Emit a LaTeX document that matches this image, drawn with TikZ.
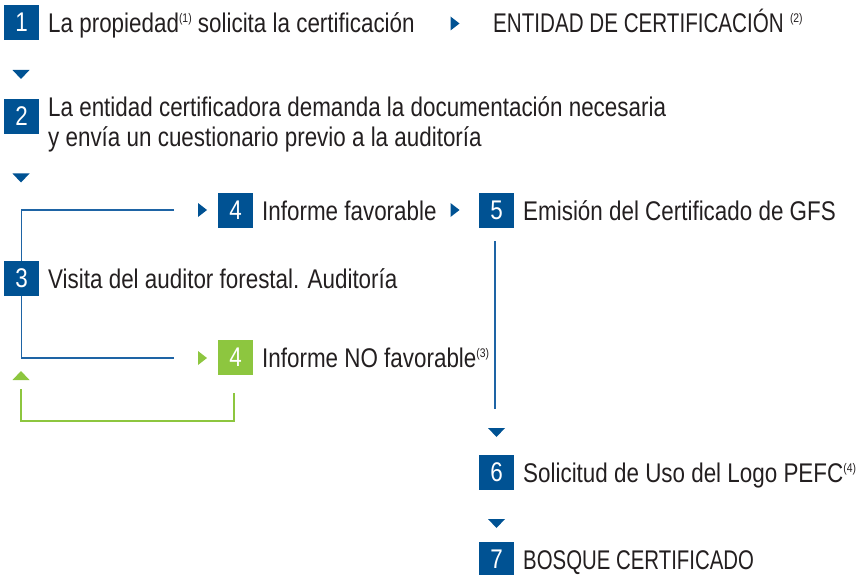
\documentclass[tikz,border=0pt]{standalone}
\usepackage{fontspec}
\setmainfont{Liberation Sans}[FakeStretch=0.83]
\definecolor{pblue}{RGB}{0,82,147}
\definecolor{lblue}{RGB}{30,100,165}
\definecolor{pgreen}{RGB}{141,198,63}
\definecolor{tcol}{RGB}{35,31,32}
\newcommand\fnsup[1]{\raisebox{10pt}{\fontsize{12.5}{12.5}\selectfont #1}}
\tikzset{
  numbox/.style={fill=pblue, minimum size=35pt, inner sep=0pt, text=white, font=\fontsize{27}{27}\selectfont},
  greenbox/.style={numbox, fill=pgreen},
  lbl/.style={anchor=base west, inner sep=0pt, text=tcol, font=\fontsize{27}{27}\selectfont},
  bline/.style={draw=lblue, line width=1.3pt},
  gline/.style={draw=pgreen, line width=1.3pt},
  tridown/.pic={\fill (-8.5,-4.5) -- (8.5,-4.5) -- (0,4.5) -- cycle;},
  triup/.pic={\fill (-8.5,4.5) -- (8.5,4.5) -- (0,-4.5) -- cycle;},
  triright/.pic={\fill (-4.5,-7) -- (-4.5,7) -- (4.5,0) -- cycle;}
}
\begin{document}
\begin{tikzpicture}[x=1pt,y=-1pt]
\useasboundingbox (0,0) rectangle (865,575);
% step 1
\node[numbox] (n1) at (21.5,22.5) {1};
\node[lbl] (t1) at (48,32.5) {La propiedad\fnsup{(1)} solicita la certificación};
\pic[pblue] at (455,23.5) {triright};
\node[lbl] (t1b) at (493,32.5) {\scalebox{0.92}[1]{ENTIDAD DE CERTIFICACIÓN} \fnsup{(2)}};
\pic[pblue] at (21,74.5) {tridown};
% step 2
\node[numbox] (n2) at (21.5,116.5) {2};
\node[lbl] (t2a) at (48,117) {La entidad certificadora demanda la documentación necesaria};
\node[lbl] (t2b) at (48,146.5) {y envía un cuestionario previo a la auditoría};
\pic[pblue] at (21,178) {tridown};
% step 3
\node[numbox] (n3) at (21.5,278.5) {3};
\node[lbl] (t3) at (48,288.5) {Visita del auditor forestal. Auditoría};
\coordinate (a1) at (174,210);
\coordinate (a2) at (174,358);
\draw[bline] (a1) -| (n3.north);
\draw[bline] (n3.south) |- (a2);
% step 4 favorable
\pic[pblue] at (202.5,210) {triright};
\node[numbox] (n4) at (235.5,210.5) {4};
\node[lbl] (t4) at (262,220.5) {Informe favorable};
\pic[pblue] at (455,210) {triright};
% step 4 no favorable
\pic[pgreen] at (202.5,358) {triright};
\node[greenbox] (n4b) at (235.5,357.5) {4};
\node[lbl] (t4b) at (262,367.5) {Informe NO favorable\fnsup{(3)}};
\pic[pgreen] at (21,375.5) {triup};
\coordinate (g1) at (21,389);
\coordinate (g2) at (234,393);
\draw[gline] (g1) -- ++(0,32) -| (g2);
% step 5
\node[numbox] (n5) at (496.5,210.5) {5};
\node[lbl] (t5) at (523,220.5) {Emisión del Certificado de GFS};
\coordinate (v1) at (495,241);
\coordinate (v2) at (495,409);
\draw[bline] (v1) -- (v2);
\pic[pblue] at (496.5,432.5) {tridown};
% step 6
\node[numbox] (n6) at (496.5,472.5) {6};
\node[lbl] (t6) at (523,482.5) {Solicitud de Uso del Logo PEFC\fnsup{(4)}};
\pic[pblue] at (496.5,523.5) {tridown};
% step 7
\node[numbox] (n7) at (496.5,559.5) {7};
\node[lbl] (t7) at (523,569) {\scalebox{0.91}[1]{BOSQUE CERTIFICADO}};
\end{tikzpicture}
\end{document}
